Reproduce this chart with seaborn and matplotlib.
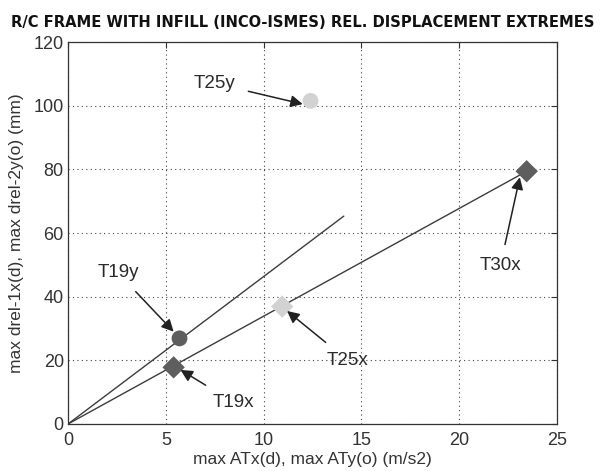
import matplotlib
matplotlib.use("Agg")
import matplotlib.pyplot as plt
import seaborn as sns
import pandas as pd

# Data
labels = ["T19x", "T19y", "T25x", "T25y", "T30x"]
acc = [5.4, 5.7, 10.95, 12.4, 23.45]
disp = [17.8, 26.9, 36.9, 101.5, 79.4]
kind = ["diamond", "circle", "diamond", "circle", "diamond"]
shade = ["dark", "dark", "light", "light", "dark"]

# fitted lines (endpoints)
line_x_dir = [0.0, 23.45]
line_y_dir = [0.0, 79.4]
line_x_y = [0.0, 14.1]
line_y_y = [0.0, 65.3]

# label positions (text) in data units
text_x = [8.45, 2.55, 14.3, 7.5, 22.1]
text_y = [6.9, 47.5, 20.0, 107.0, 49.7]
arrow_tip_x = [5.75, 5.4, 11.2, 12.0, 23.1]
arrow_tip_y = [17.0, 29.0, 35.5, 100.5, 77.5]

xticks = [0, 5, 10, 15, 20, 25]
yticks = [0, 20, 40, 60, 80, 100, 120]

df = pd.DataFrame({"acc": acc, "disp": disp, "kind": kind, "shade": shade, "label": labels})
lines = pd.DataFrame({
    "x": line_x_dir + line_x_y,
    "y": line_y_dir + line_y_y,
    "grp": ["a", "a", "b", "b"],
})

sns.set_style("white")
plt.rcParams["font.family"] = ["Liberation Sans", "DejaVu Sans"]

fig = plt.figure(figsize=(6.03, 4.71), dpi=100)
ax = fig.add_axes([0.1128, 0.0998, 0.8109, 0.8110])

sns.lineplot(data=lines, x="x", y="y", units="grp", estimator=None,
             color="#3c3c3c", lw=1.0, ax=ax, legend=False, sort=False)

sns.scatterplot(data=df, x="acc", y="disp", hue="shade", style="kind",
                palette={"dark": "#5e5e5e", "light": "#d2d2d2"},
                markers={"circle": "o", "diamond": "D"},
                s=130, edgecolor="none", ax=ax, legend=False, zorder=5)

for i, lab in enumerate(labels):
    ax.annotate(lab, xy=(arrow_tip_x[i], arrow_tip_y[i]), xytext=(text_x[i], text_y[i]),
                ha="center", va="center", fontsize=13.5, color="#2a2a2a",
                arrowprops=dict(arrowstyle="-|>", color="#222222", lw=1.1,
                                mutation_scale=18, shrinkA=7, shrinkB=0),
                zorder=6)

ax.set_xlim(0, 25)
ax.set_ylim(0, 120)
ax.set_xticks(xticks)
ax.set_yticks(yticks)
ax.set_xticklabels([str(t) for t in xticks], fontsize=13, color="#333333")
ax.set_yticklabels([str(t) for t in yticks], fontsize=13, color="#333333")
ax.tick_params(direction="in", length=4, top=True, right=True, width=0.8, color="#333333", pad=3)
ax.tick_params(axis="x", pad=6)
ax.grid(True, linestyle=(0, (1, 3)), color="#444444", lw=0.8)
for sp in ax.spines.values():
    sp.set_color("#333333")
    sp.set_linewidth(0.9)

ax.set_xlabel("max ATx(d), max ATy(o) (m/s2)", fontsize=12.5, color="#333333", labelpad=2)
ax.set_ylabel("max drel-1x(d), max drel-2y(o) (mm)", fontsize=12.5, color="#333333", labelpad=7)
fig.text(0.502, 0.953, "R/C FRAME WITH INFILL (INCO-ISMES) REL. DISPLACEMENT EXTREMES",
         ha="center", va="center", fontsize=11.8, fontweight="bold",
         fontstretch="condensed", family=["DejaVu Sans"], color="#111111")

fig.savefig("out.png", dpi=100)
